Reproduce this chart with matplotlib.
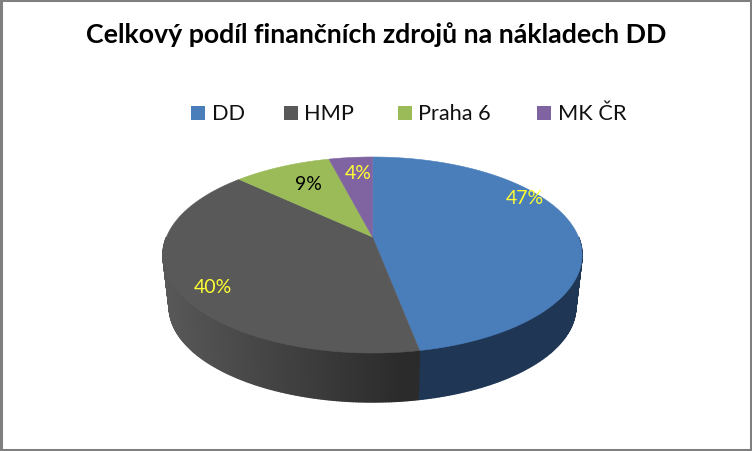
import numpy as np
import matplotlib
matplotlib.use("Agg")
import matplotlib.pyplot as plt
from matplotlib.patches import Polygon, Rectangle

# data
labels = ["DD", "HMP", "Praha 6", "MK ČR"]
shares = [47, 40, 9, 4]
colors = ["#4A7EBB", "#595959", "#9BBB59", "#8064A2"]
wall_dark = ["#1F3552", "#2B2B2B", "#5E7235", "#4C3C62"]
wall_light = ["#1F3757", "#585858", "#7A9446", "#64507F"]
label_colors = ["#FFFF33", "#FFFF33", "#000000", "#FFFF33"]
title = "Celkový podíl finančních zdrojů na nákladech DD"

plt.rcParams['font.family'] = ['Lato', 'DejaVu Sans']

# tilted disc, perspective makes the apex sit above the ellipse centre
CX, CY = 372.5, 238
RX, RY = 206, 94.7
K = 0.1837
DEPTH_Y = 52.5
BOTTOM_SCALE = 0.97


def project(angle, scale=1.0, cy=CY):
    # angle in radians, clockwise from the top
    u, v = np.sin(angle), np.cos(angle)
    w = 1 + K * v
    return CX + scale * RX * u / w, cy - scale * RY * v / w


fig = plt.figure(figsize=(7.52, 4.52), dpi=100)
ax = fig.add_axes([0, 0, 1, 1])
ax.set_xlim(0, 752)
ax.set_ylim(452, 0)
ax.axis("off")

edges = np.cumsum([0] + shares) / sum(shares) * 2 * np.pi

# side wall, short strips so the shading can change along the rim
x_right = project(np.arccos(-K))[0]
x_left = 2 * CX - x_right
for i in range(len(shares)):
    steps = max(int((edges[i + 1] - edges[i]) * 90), 2)
    ang = np.linspace(edges[i], edges[i + 1], steps + 1)
    for a0, a1 in zip(ang[:-1], ang[1:]):
        if np.cos((a0 + a1) / 2) > 0:
            continue
        t0 = project(a0)
        t1 = project(a1)
        b1 = project(a1, BOTTOM_SCALE, CY + DEPTH_Y)
        b0 = project(a0, BOTTOM_SCALE, CY + DEPTH_Y)
        f = np.clip((t0[0] - x_left) / (x_right - x_left) * 1.75, 0, 1) if i == 1 else 0.5
        c0 = np.array(matplotlib.colors.to_rgb(wall_light[i]))
        c1 = np.array(matplotlib.colors.to_rgb(wall_dark[i]))
        shade = c0 + (c1 - c0) * f
        ax.add_patch(Polygon([t0, t1, b1, b0], closed=True, facecolor=shade,
                             edgecolor=shade, linewidth=1.0))

# top face
for i in range(len(shares)):
    ang = np.linspace(edges[i], edges[i + 1], 200)
    pts = [(CX, CY)] + [project(a) for a in ang]
    ax.add_patch(Polygon(pts, closed=True, facecolor=colors[i], edgecolor=colors[i], linewidth=0.4))

# percent labels were moved by hand in the original
label_pos = [(524.5, 199), (212.5, 288), (308, 185), (358, 174)]
for s, (lx, ly), c in zip(shares, label_pos, label_colors):
    ax.text(lx, ly, f"{s}%", color=c, fontsize=14, ha="center", va="center")

ax.text(376, 35, title, fontsize=19.3, fontweight="bold", ha="center", va="center", color="black")

# legend
legend_x = [191, 284, 398, 537]
for name, c, lx in zip(labels, colors, legend_x):
    ax.add_patch(Rectangle((lx, 107), 14, 14, facecolor=c, edgecolor="none"))
    ax.text(lx + 20.5, 114, name, fontsize=15.7, ha="left", va="center", color="#111111")

# outer frame
ax.add_patch(Rectangle((1, 1), 750, 450, facecolor="none", edgecolor="#7F7F7F", linewidth=2.2))

fig.savefig("out.png", dpi=100)
